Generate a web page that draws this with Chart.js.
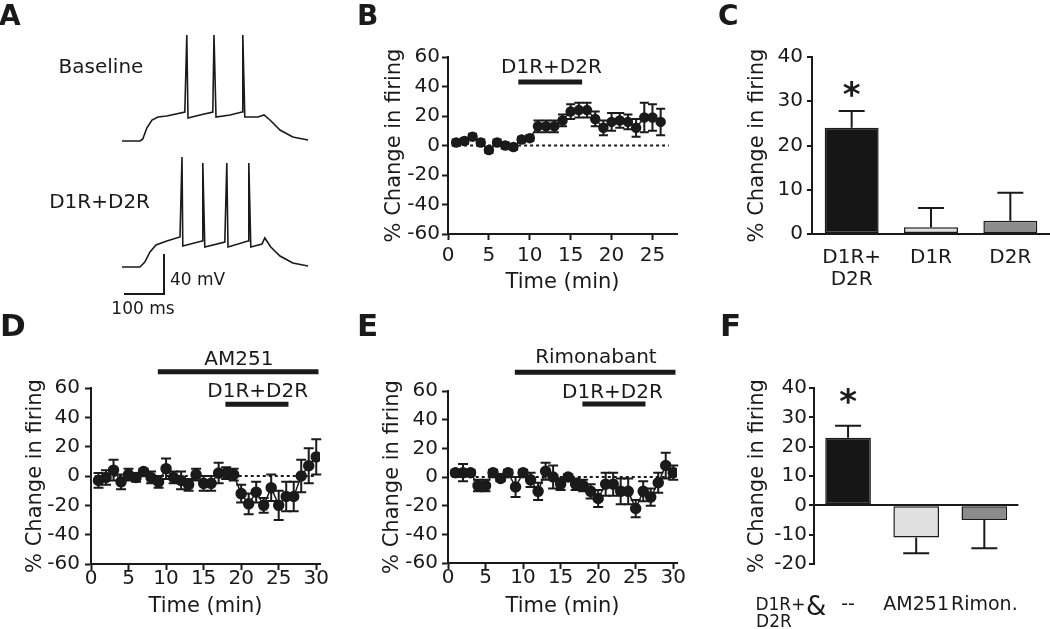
<!DOCTYPE html>
<html lang="en">
<head>
<meta charset="UTF-8" />
<title>D1R+D2R co-activation and striatal firing</title>
<script src="https://cdn.jsdelivr.net/npm/chart.js"></script>
<style>
  body { margin: 0; background: #fff; }
  #fig { position: relative; width: 1050px; height: 629px; overflow: hidden;
         font-family: "DejaVu Sans", sans-serif; color: #1a1a1a; }
  #fig canvas { position: absolute; }
  .tag { position: absolute; font-weight: bold; line-height: 1; }
</style>
</head>
<body>
<div id="fig">
  <canvas id="panelA" width="335" height="320" style="left:0;top:0"></canvas>
  <canvas id="panelB" width="345" height="275" style="left:340px;top:30px"></canvas>
  <canvas id="panelC" width="350" height="275" style="left:700px;top:30px"></canvas>
  <canvas id="panelD" width="335" height="295" style="left:0;top:330px"></canvas>
  <canvas id="panelE" width="345" height="295" style="left:345px;top:330px"></canvas>
  <canvas id="panelF" width="350" height="299" style="left:700px;top:330px"></canvas>

  <div class="tag" style="left:-1px;top:2px;font-size:28px">A</div>
  <div class="tag" style="left:357px;top:2px;font-size:28px">B</div>
  <div class="tag" style="left:718px;top:2px;font-size:28px">C</div>
  <div class="tag" style="left:0;top:310px;font-size:31px">D</div>
  <div class="tag" style="left:357px;top:310px;font-size:31px">E</div>
  <div class="tag" style="left:720px;top:310px;font-size:31px">F</div>
</div>

<script>
  const INK = '#1a1a1a';
  const FONT = '"DejaVu Sans", sans-serif';

  // --- A: example current-clamp traces (ms, mV) ---
  const baseT = [0, 45, 52, 62, 75, 90, 112, 157, 162, 165, 195, 227, 230, 235, 270, 300, 302, 307, 340, 355, 370, 395, 427, 465];
  const baseV = [-70, -70, -68, -57, -49, -46, -45, -41, 36, -47, -44, -41, 36, -46, -44, -41, 36, -46, -46, -44, -49, -59, -66, -69];
  const drugT = [0, 45, 57, 70, 85, 112, 145, 150, 152, 200, 202, 207, 257, 262, 265, 315, 317, 322, 350, 357, 372, 395, 427, 465];
  const drugV = [-70, -70, -65, -55, -48, -44, -40, 40, -49, -44, 34, -50, -45, 34, -50, -44, 34, -50, -47, -41, -50, -59, -66, -69];
  const scaleMs = 100, scaleMv = 40;

  // --- B: D1R+D2R time course ---
  const timeB = [1, 2, 3, 4, 5, 6, 7, 8, 9, 10, 11, 12, 13, 14, 15, 16, 17, 18, 19, 20, 21, 22, 23, 24, 25, 26];
  const meanB = [2, 3, 6, 2, -3, 2, 0, -1, 4, 5, 13, 13, 13, 17, 23, 24, 24, 18, 12, 16, 17, 16, 12, 19, 19, 16];
  const semB  = [2, 2, 2, 2, 2, 2, 2, 2, 2, 2, 4, 4, 4, 4, 5, 5, 5, 5, 5, 6, 5, 5, 6, 10, 9, 9];
  const agonistB = [8.6, 16.4];

  // --- C: summary ---
  const catsC = [['D1R+', 'D2R'], 'D1R', 'D2R'];
  const meanC = [24, 1.5, 3];
  const semC  = [3.8, 4.4, 6.3];

  // --- D: AM251 time course ---
  const timeDE = [1, 2, 3, 4, 5, 6, 7, 8, 9, 10, 11, 12, 13, 14, 15, 16, 17, 18, 19, 20, 21, 22, 23, 24, 25, 26, 27, 28, 29, 30];
  const meanD = [-3, -1, 4, -4, 1, -1, 3, -1, -4, 5, -1, -3, -6, 1, -5, -5, 2, 2, 1, -12, -19, -11, -20, -8, -20, -14, -14, 0, 7, 13];
  const semD  = [5, 5, 7, 5, 4, 3, 2, 4, 4, 7, 4, 6, 4, 4, 5, 5, 7, 4, 4, 6, 7, 7, 5, 9, 10, 10, 10, 11, 12, 12];
  const am251D = [8.9, 30.3];
  const agonistD = [17.9, 26.3];

  // --- E: rimonabant time course ---
  const meanE = [3, 3, 3, -6, -6, 3, -1, 3, -7, 3, -2, -10, 4, 0, -5, 0, -5, -6, -10, -15, -5, -5, -10, -10, -22, -10, -14, -4, 8, 3];
  const semE  = [2, 6, 2, 4, 4, 2, 2, 2, 7, 2, 5, 6, 6, 8, 4, 2, 4, 4, 5, 6, 8, 8, 9, 9, 6, 7, 6, 7, 9, 5];
  const rimoE = [8.9, 30.3];
  const agonistE = [17.9, 26.3];

  // --- F: summary with CB1 antagonists ---
  const catsF = ['--', 'AM251', 'Rimon.'];
  const meanF = [23, -11, -5];
  const semF  = [4.1, 5.3, 9.6];

  // tick values
  const ticksTimeB = [0, 5, 10, 15, 20, 25];
  const ticksTimeDE = [0, 5, 10, 15, 20, 25, 30];
  const ticksPct = [-60, -40, -20, 0, 20, 40, 60];
  const ticksC = [0, 10, 20, 30, 40];
  const ticksF = [-20, -10, 0, 10, 20, 30, 40];

  const barFills = ['#161616', '#e0e0e0', '#8c8c8c'];

  Chart.defaults.font.family = FONT;
  Chart.defaults.color = INK;
  Chart.defaults.animation = false;
  Chart.defaults.events = [];
  Chart.defaults.plugins.legend.display = false;
  Chart.defaults.plugins.tooltip.enabled = false;

  // text placed at data coordinates, per canvas
  const notes = {
    panelA: [
      { text: 'Baseline', x: -52.5, y: 3 },
      { text: 'D1R+D2R', x: -56, y: -132 },
      { text: '40 mV', x: 120, y: -210, size: 17, align: 'left' },
      { text: '100 ms', x: 52.5, y: -239, size: 17 }
    ],
    panelB: [{ text: 'D1R+D2R', x: 12.65, y: 53 }],
    panelC: [{ text: '*', x: 0, y: 29, size: 34, bold: true, baseline: 'alphabetic' }],
    panelD: [{ text: 'AM251', x: 19.7, y: 79 }, { text: 'D1R+D2R', x: 22.2, y: 57.5 }],
    panelE: [{ text: 'Rimonabant', x: 19.7, y: 83 }, { text: 'D1R+D2R', x: 21.9, y: 59 }],
    panelF: [
      { text: '*', x: 0, y: 31.6, size: 34, bold: true, baseline: 'alphabetic' },
      { text: 'D1R+', x: -1.36, y: -34.1, size: 17, align: 'left' },
      { text: 'D2R', x: -1.35, y: -39.9, size: 17, align: 'left' },
      { text: '&', x: -0.47, y: -35.1, size: 26 }
    ]
  };

  const panelText = {
    id: 'panelText',
    afterDatasetsDraw(chart) {
      const { ctx, scales } = chart;
      ctx.save();
      ctx.fillStyle = INK;
      (notes[chart.canvas.id] || []).forEach(n => {
        ctx.font = `${n.bold ? 'bold ' : ''}${n.size || 20}px ${FONT}`;
        ctx.textAlign = n.align || 'center';
        ctx.textBaseline = n.baseline || 'middle';
        ctx.fillText(n.text, scales.x.getPixelForValue(n.x), scales.y.getPixelForValue(n.y));
      });
      ctx.restore();
    }
  };

  // mean +/- sem whiskers; bars get a one-sided whisker away from zero
  const errorBars = {
    id: 'errorBars',
    beforeDatasetsDraw(chart) {
      const ctx = chart.ctx;
      chart.data.datasets.forEach((ds, i) => {
        if (!ds.errors) return;
        const meta = chart.getDatasetMeta(i);
        const ys = chart.scales[meta.yAxisID];
        ctx.save();
        ctx.strokeStyle = INK;
        ctx.lineWidth = 2;
        meta.data.forEach((el, j) => {
          const raw = ds.data[j];
          const v = typeof raw === 'object' ? raw.y : raw;
          const e = ds.errors[j];
          const half = ds.capWidth / 2;
          const x = el.x;
          const lo = ys.getPixelForValue(ds.oneSided ? v : v - e);
          const hi = ys.getPixelForValue(ds.oneSided ? v + (v < 0 ? -e : e) : v + e);
          ctx.beginPath();
          ctx.moveTo(x, lo); ctx.lineTo(x, hi);
          ctx.moveTo(x - half, hi); ctx.lineTo(x + half, hi);
          if (!ds.oneSided) { ctx.moveTo(x - half, lo); ctx.lineTo(x + half, lo); }
          ctx.stroke();
        });
        ctx.restore();
      });
    }
  };

  const pts = (xs, ys, dy = 0) => xs.map((x, i) => ({ x, y: ys[i] + dy }));
  const line = (data, width, extra = {}) => Object.assign(
    { data, showLine: true, borderColor: INK, borderWidth: width, pointRadius: 0 }, extra);

  // ---- A ----
  const gap = -126;   // second trace is drawn below the first
  new Chart(document.getElementById('panelA'), {
    type: 'scatter',
    data: {
      datasets: [
        line(pts(baseT, baseV), 1.6),
        line(pts(drugT, drugV, gap), 1.6),
        line([{ x: 105, y: -223 + scaleMv }, { x: 105, y: -223 }, { x: 105 - scaleMs, y: -223 }], 2)
      ]
    },
    options: {
      responsive: false,
      scales: {
        x: { display: false, min: -305, max: 532.5 },
        y: { display: false, min: -249, max: 71 }
      }
    },
    plugins: [panelText]
  });

  function axisStyle(tickLen) {
    return {
      border: { color: INK, width: 2 },
      grid: { drawOnChartArea: false, tickLength: tickLen, tickWidth: 2, tickColor: INK }
    };
  }

  function timePanel(id, o) {
    const drugs = o.drugs.map(d => line(
      [{ x: d.on[0], y: d.level }, { x: d.on[1], y: d.level }], 5, { clip: false, borderCapStyle: 'butt' }));
    return new Chart(document.getElementById(id), {
      type: 'scatter',
      data: {
        datasets: [
          line(pts(o.t, o.mean), 1.5, {
            errors: o.sem, capWidth: o.cap, pointRadius: o.r,
            pointBackgroundColor: INK, pointBorderColor: INK
          }),
          line([{ x: 0.5, y: 0 }, { x: o.zeroEnd, y: 0 }], 2, { borderDash: [3, 3] }),
          ...drugs
        ]
      },
      options: {
        responsive: false,
        layout: { padding: { top: o.padTop, right: o.padRight, left: 0, bottom: 0 } },
        scales: {
          x: Object.assign(axisStyle(6), {
            type: 'linear', min: 0, max: o.xMax,
            afterBuildTicks: s => { s.ticks = o.xTicks.map(value => ({ value })); },
            afterFit: s => { s.height = o.xHeight; },
            ticks: { padding: o.xPad, color: INK, font: { size: 20, lineHeight: 1 }, maxRotation: 0, autoSkip: false },
            title: { display: true, text: 'Time (min)', color: INK, font: { size: 21 }, padding: { top: 0, bottom: o.xTitlePad } }
          }),
          y: Object.assign(axisStyle(6), {
            min: -60, max: 60,
            afterBuildTicks: s => { s.ticks = ticksPct.map(value => ({ value })); },
            afterFit: s => { s.width = o.yWidth; },
            ticks: { padding: o.yPad, color: INK, font: { size: 20 }, autoSkip: false },
            title: { display: true, text: '% Change in firing', color: INK, font: { size: 21 }, padding: { top: o.yTitlePad, bottom: 0 } }
          })
        }
      },
      plugins: [errorBars, panelText]
    });
  }

  function barPanel(id, o) {
    return new Chart(document.getElementById(id), {
      type: 'bar',
      data: {
        labels: o.cats,
        datasets: [{
          data: o.mean, errors: o.sem, oneSided: true, capWidth: 26,
          backgroundColor: barFills, borderColor: INK, borderWidth: 1.5, borderSkipped: false,
          barPercentage: o.barPct, categoryPercentage: 1
        }]
      },
      options: {
        responsive: false,
        layout: { padding: { top: o.padTop, right: o.padRight, left: 0, bottom: 0 } },
        scales: {
          x: {
            border: { display: o.xBorder, color: INK, width: 2 },
            grid: { display: false, drawTicks: false },
            afterFit: s => { s.height = o.xHeight; },
            ticks: { padding: o.xPad, color: INK, font: { size: o.xFont, lineHeight: 1.1 }, maxRotation: 0, autoSkip: false }
          },
          y: {
            min: o.yTicks[0], max: o.yTicks[o.yTicks.length - 1],
            afterBuildTicks: s => { s.ticks = o.yTicks.map(value => ({ value })); },
            afterFit: s => { s.width = o.yWidth; },
            border: { color: INK, width: 2 },
            grid: {
              drawOnChartArea: o.zeroLine, lineWidth: 2,
              color: c => (c.tick && c.tick.value === 0 ? INK : 'rgba(0,0,0,0)'),
              tickLength: 5, tickWidth: 2, tickColor: INK
            },
            ticks: { padding: o.yPad, color: INK, font: { size: 20 }, autoSkip: false },
            title: { display: true, text: '% Change in firing', color: INK, font: { size: 21 }, padding: { top: o.yTitlePad, bottom: 0 } }
          }
        }
      },
      plugins: [errorBars, panelText]
    });
  }

  timePanel('panelB', {
    t: timeB, mean: meanB, sem: semB, r: 4.5, cap: 9, zeroEnd: 27,
    drugs: [{ on: agonistB, level: 43 }],
    xMax: 28, xTicks: ticksTimeB,
    padTop: 27, padRight: 8, yWidth: 108, xHeight: 71,
    xPad: 6, yPad: 2, xTitlePad: 10, yTitlePad: 42
  });

  barPanel('panelC', {
    cats: catsC, mean: meanC, sem: semC, yTicks: ticksC, barPct: 0.68, xFont: 20,
    padTop: 27, padRight: 0, yWidth: 112, xHeight: 71,
    xPad: 13, yPad: 4, yTitlePad: 45, xBorder: true, zeroLine: false
  });

  timePanel('panelD', {
    t: timeDE, mean: meanD, sem: semD, r: 5, cap: 10, zeroEnd: 30,
    drugs: [{ on: am251D, level: 71 }, { on: agonistD, level: 49 }],
    xMax: 30.5, xTicks: ticksTimeDE,
    padTop: 58, padRight: 15, yWidth: 91, xHeight: 61,
    xPad: -1, yPad: 5, xTitlePad: 6, yTitlePad: 23
  });

  timePanel('panelE', {
    t: timeDE, mean: meanE, sem: semE, r: 5, cap: 10, zeroEnd: 30,
    drugs: [{ on: rimoE, level: 73 }, { on: agonistE, level: 51 }],
    xMax: 30.5, xTicks: ticksTimeDE,
    padTop: 61, padRight: 13, yWidth: 103, xHeight: 62,
    xPad: -1, yPad: 4, xTitlePad: 6, yTitlePad: 35
  });

  barPanel('panelF', {
    cats: catsF, mean: meanF, sem: semF, yTicks: ticksF, barPct: 0.67, xFont: 19,
    padTop: 58, padRight: 8, yWidth: 114, xHeight: 65,
    xPad: 31, yPad: 2, yTitlePad: 45, xBorder: false, zeroLine: true
  });
</script>
</body>
</html>
